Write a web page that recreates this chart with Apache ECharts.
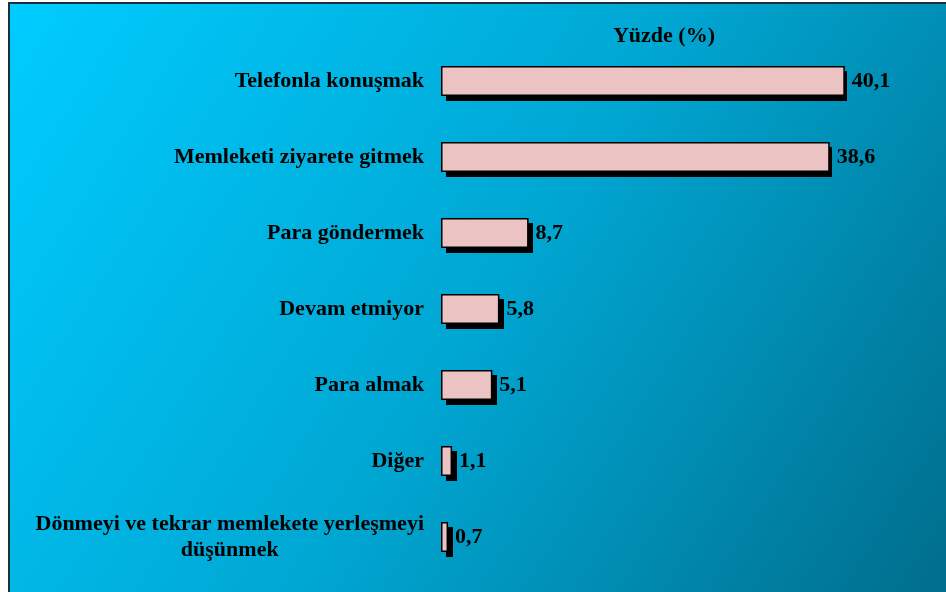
<!DOCTYPE html>
<html>
<head>
<meta charset="utf-8">
<script src="https://cdn.jsdelivr.net/npm/echarts@6/dist/echarts.min.js"></script>
<style>
  html, body { margin: 0; padding: 0; background: #fff; }
  #chart { width: 946px; height: 592px; }
</style>
</head>
<body>
<div id="chart"></div>
<script>
var categories = [
  'Telefonla konuşmak',
  'Memleketi ziyarete gitmek',
  'Para göndermek',
  'Devam etmiyor',
  'Para almak',
  'Diğer',
  'Dönmeyi ve tekrar memlekete yerleşmeyi\ndüşünmek'
];
var values = [40.1, 38.6, 8.7, 5.8, 5.1, 1.1, 0.7];
var axisTitle = 'Yüzde (%)';

var serif = '"Liberation Serif", "Times New Roman", serif';

var chart = echarts.init(document.getElementById('chart'));
var option = {
  animation: false,
  graphic: [
    {
      type: 'rect',
      z: -10,
      shape: { x: 9, y: 3, width: 960, height: 610 },
      style: {
        fill: new echarts.graphic.LinearGradient(0, 0, 1, 1, [
          { offset: 0, color: '#00ccff' },
          { offset: 0.5, color: '#00a6d2' },
          { offset: 1, color: '#006a88' }
        ]),
        stroke: '#17303a',
        lineWidth: 2
      }
    }
  ],
  title: {
    text: axisTitle,
    left: 659,
    top: 20,
    textAlign: 'center',
    textStyle: {
      fontFamily: serif,
      fontWeight: 'bold',
      fontSize: 22,
      color: '#000'
    }
  },
  // grid 0 = bars, grid 1 = same scale shifted 5px for the drop shadow
  grid: [
    { left: 441, top: 43, width: 503.5, height: 532 },
    { left: 446, top: 48, width: 503.5, height: 532 }
  ],
  xAxis: [
    { type: 'value', gridIndex: 0, min: 0, max: 50, show: false },
    { type: 'value', gridIndex: 1, min: 0, max: 50, show: false }
  ],
  yAxis: [
    {
      type: 'category',
      gridIndex: 0,
      inverse: true,
      data: categories,
      axisLine: { show: false },
      axisTick: { show: false },
      axisLabel: {
        margin: 17,
        fontFamily: serif,
        fontWeight: 'bold',
        fontSize: 22,
        color: '#000',
        lineHeight: 26,
        formatter: function (v) {
          return v.split('\n').map(function (s) { return '{c|' + s + '}'; }).join('\n');
        },
        rich: {
          c: {
            align: 'center',
            fontFamily: serif,
            fontWeight: 'bold',
            fontSize: 22,
            color: '#000',
            lineHeight: 26
          }
        }
      }
    },
    {
      type: 'category',
      gridIndex: 1,
      inverse: true,
      data: categories,
      show: false
    }
  ],
  series: [
    {
      name: 'shadow',
      type: 'bar',
      xAxisIndex: 1,
      yAxisIndex: 1,
      data: values,
      barWidth: 30,
      z: 1,
      silent: true,
      itemStyle: { color: '#000' }
    },
    {
      name: 'bar',
      type: 'bar',
      xAxisIndex: 0,
      yAxisIndex: 0,
      data: values,
      barWidth: 30,
      z: 2,
      itemStyle: {
        color: '#ebc3c3',
        borderColor: '#000',
        borderWidth: 1.5
      },
      label: {
        show: true,
        position: 'right',
        distance: 7,
        fontFamily: serif,
        fontWeight: 'bold',
        fontSize: 22,
        color: '#000',
        formatter: function (p) { return String(p.value).replace('.', ','); }
      }
    }
  ]
};
chart.setOption(option);
</script>
</body>
</html>
